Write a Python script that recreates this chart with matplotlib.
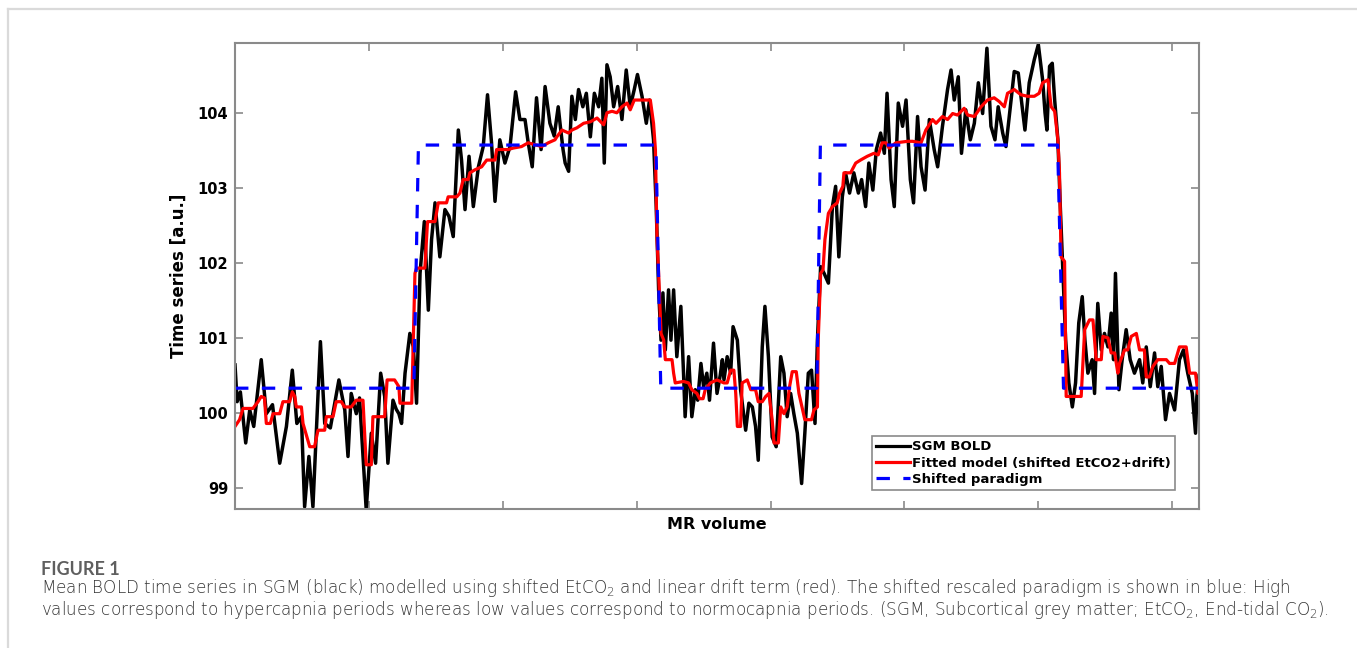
import matplotlib
matplotlib.use("Agg")
import matplotlib.pyplot as plt
from matplotlib.lines import Line2D

# SGM BOLD (black): volume, value
bold_vol = [0, 0.8, 2, 4, 5.5, 7, 9.8, 11.7, 14, 16.7, 19.2, 21.4, 23.1, 24.8, 26, 27.6, 29.1,
            31.9, 33.5, 35.6, 38.8, 41, 42.2, 43.4, 45.3, 46.5, 49, 50.9, 52.5, 54.4, 55.9, 57.1,
            59, 60.2, 61.2, 62.2, 63.5, 65.3, 66.6, 67.8, 69.1, 70.7, 72.2, 73.4, 74.7, 76.5,
            78.4, 79.9, 81.5, 83.4, 84.6, 85.9, 87.4, 89, 90.9, 92.7, 94.3, 95.8, 97.1, 98.9,
            100.8, 102.7, 104.8, 106.4, 108.3, 109.5, 111, 112.6, 114.3, 115.8, 117.6, 119.2,
            120.7, 121.5, 122.5, 123.3, 124.6, 125.8, 127.1, 128.3, 129.9, 131.2, 132.7, 134.2,
            135.8, 137, 137.9, 138.9, 140.1, 141.4, 142.9, 144.5, 146.1, 147.6, 149.1, 150.3,
            152, 153.6, 154.8, 156.3, 157.3, 158.2, 159.1, 159.8, 160.7, 161.9, 162.8, 163.8,
            165, 166.5, 167.5, 168.1, 169.4, 170.6, 171.9, 172.8, 174, 175, 176.2, 177.2, 178.7,
            180, 181.2, 182, 182.6, 183.8, 185.1, 186, 187.6, 188.8, 190.7, 191.9, 193.2, 194.4,
            195.4, 196.9, 197.9, 199.2, 200.6, 202.1, 203.8, 205, 206.2, 207.5, 208.7, 210,
            211.6, 212.8, 214.1, 215.3, 216.6, 217.5, 218.7, 220, 221.6, 223.1, 224.3, 225.5,
            226.8, 228, 229.5, 231.1, 232.8, 234, 235.5, 236.7, 238.2, 239.5, 241.1, 242.5,
            243.5, 245, 246.2, 247.7, 249.3, 250.6, 252.2, 253.4, 254.9, 256.2, 257.7, 259.3,
            261.1, 262.4, 264.2, 266.1, 267.4, 268.6, 270.1, 271.3, 272.9, 274.6, 276.1, 277.6,
            279.2, 280.8, 282.3, 283.8, 285, 286.7, 287.9, 289.8, 291, 292.5, 293.5, 295, 296.6,
            298.5, 300, 301.6, 302.5, 303.2, 304.2, 305.2, 306.1, 307.3, 308.2, 309.2, 310.2,
            311.4, 312.7, 313.9, 315.1, 316.4, 317.4, 318.5, 320.1, 321, 322.2, 323.5, 324.7,
            326, 327.2, 328.1, 328.8, 330.1, 331.3, 332.8, 334.3, 335.9, 337.8, 339, 340.3,
            341.8, 343.4, 344.6, 345.9, 347.5, 349, 350.9, 352.7, 354.2, 355.8, 357.5, 358.7,
            359.2, 360]
bold_val = [100.64, 100.15, 100.28, 99.60, 100.04, 99.82, 100.71, 99.99, 100.11, 99.33, 99.82,
            100.57, 99.86, 99.95, 98.75, 99.42, 98.75, 100.95, 99.86, 99.80, 100.44, 100.04,
            99.42, 100.26, 99.99, 100.20, 98.71, 99.73, 99.33, 100.53, 100.22, 99.33, 100.17,
            100.05, 99.99, 99.86, 100.53, 101.06, 100.88, 100.13, 101.86, 102.55, 101.37,
            102.31, 102.80, 102.08, 102.71, 102.62, 102.35, 103.77, 103.37, 102.71, 103.42,
            102.75, 103.28, 103.55, 104.24, 103.60, 102.82, 103.64, 103.33, 103.55, 104.28,
            103.91, 103.91, 103.60, 103.28, 104.20, 103.51, 104.35, 103.86, 103.69, 104.08,
            103.82, 103.51, 103.33, 103.22, 104.22, 103.91, 104.31, 104.08, 104.26, 103.68,
            104.26, 104.08, 104.46, 103.33, 104.64, 104.48, 104.08, 104.35, 103.91, 104.57,
            104.08, 104.31, 104.51, 104.22, 103.86, 104.17, 103.64, 102.75, 101.64, 100.97,
            101.60, 100.84, 101.64, 100.97, 101.64, 100.75, 101.42, 100.53, 99.95, 100.75,
            99.95, 100.31, 100.17, 100.66, 100.35, 100.53, 100.17, 100.93, 100.26, 100.50,
            100.71, 100.44, 100.75, 100.53, 101.15, 100.97, 100.31, 99.77, 100.13, 100.08,
            99.82, 99.37, 100.88, 101.42, 100.75, 99.68, 99.55, 100.75, 100.53, 99.95, 100.26,
            99.99, 99.73, 99.06, 99.73, 100.53, 100.57, 99.86, 100.97, 101.95, 101.86, 101.73,
            102.75, 103.02, 102.08, 102.88, 103.20, 102.93, 103.20, 102.93, 103.11, 102.75,
            103.33, 102.97, 103.51, 103.73, 103.46, 104.26, 103.11, 102.75, 104.13, 103.82,
            104.17, 103.11, 102.80, 103.95, 103.28, 102.97, 103.91, 103.51, 103.28, 103.82,
            104.31, 104.57, 104.17, 104.48, 103.46, 104.04, 103.64, 103.86, 104.40, 103.99,
            104.86, 103.82, 103.64, 104.08, 103.73, 103.55, 104.17, 104.55, 104.53, 104.22,
            103.77, 104.40, 104.71, 104.91, 104.44, 104.00, 103.77, 104.62, 104.66, 104.17,
            103.64, 102.75, 101.86, 100.97, 100.40, 100.08, 100.40, 101.20, 101.55, 100.97,
            100.53, 100.71, 100.26, 101.46, 100.84, 101.06, 100.88, 101.33, 100.71, 101.86,
            100.31, 100.71, 101.11, 100.71, 100.53, 100.71, 100.40, 100.88, 100.35, 100.80,
            100.35, 100.62, 99.91, 100.26, 100.04, 100.71, 100.84, 100.53, 100.26, 99.73,
            100.22, 100.50]

# fitted model (red)
fit_vol = [0, 1.7, 3, 6.7, 8.6, 9.8, 11, 11.7, 13.2, 14.2, 16.7, 17.9, 20.4, 21.4, 22.3, 22.9,
           24.8, 25.4, 27.9, 29.7, 31, 33.5, 34.1, 36.6, 37.8, 39.7, 40.9, 43.4, 45.3, 47.8,
           49, 50.9, 51.5, 55.9, 56.8, 59.6, 61.2, 61.6, 66, 66.6, 67.2, 67.8, 70.9, 71.9,
           74.7, 75.9, 79, 79.6, 82.8, 84, 85.2, 87.1, 87.7, 89.6, 92.1, 94, 97.1, 97.7, 102,
           103.9, 107, 109.5, 114.5, 117, 119.5, 120.2, 122.1, 124.6, 125.8, 127.7, 130.2,
           132.7, 135.2, 137.7, 138.9, 140.8, 142.6, 144.5, 146.4, 147.6, 149.1, 152, 155.1,
           156.3, 157, 157.6, 158.2, 159.1, 160.1, 160.7, 163.2, 163.8, 164.4, 167.5, 169.4,
           170.6, 172.5, 173.5, 174.8, 175.6, 177.5, 180, 182.6, 183.8, 185.1, 186.3, 187,
           187.6, 188.8, 189.4, 191.3, 192.6, 194.4, 195.4, 196.9, 198.2, 199.4, 200.6, 201.3,
           202.9, 203.8, 205, 206.2, 207.1, 208.1, 209.6, 210.6, 212.8, 215.3, 216.2, 217.5,
           217.8, 218.7, 219.6, 220.3, 221.6, 223.1, 224.9, 225.8, 227, 227.4, 229.9, 231.8,
           233.6, 236.1, 238.6, 240.2, 241.7, 243.1, 244.3, 246.8, 251.2, 253, 256.2, 258,
           260.5, 261.8, 264.2, 266.1, 268, 269.8, 272.3, 273.6, 276.1, 278.6, 281, 283.5,
           285.4, 287.3, 288.5, 291, 293.5, 296, 298.5, 300.3, 301.6, 303.6, 304.8, 306.1,
           307.3, 307.9, 308.5, 309.8, 310.4, 315.4, 316, 317.3, 319.1, 320.4, 321.6, 323.5,
           324.1, 326, 327.2, 328.5, 329.7, 330.3, 332.2, 333.4, 334.7, 336.6, 337.8, 339.6,
           340.3, 341.5, 342.8, 344.6, 347.8, 349, 350.9, 352.7, 355.2, 356.5, 358.7, 359.6,
           360]
fit_val = [99.82, 99.91, 100.06, 100.06, 100.15, 100.22, 100.20, 99.86, 99.86, 99.99, 99.99,
           100.15, 100.15, 100.28, 100.22, 100.08, 100.08, 99.86, 99.55, 99.55, 99.77, 99.77,
           99.95, 99.95, 100.15, 100.15, 100.08, 100.08, 100.17, 100.17, 99.31, 99.31, 99.95,
           99.95, 100.44, 100.44, 100.35, 100.13, 100.13, 100.97, 101.86, 101.93, 101.93,
           102.55, 102.55, 102.80, 102.80, 102.88, 102.88, 102.93, 103.11, 103.11, 103.20,
           103.24, 103.28, 103.37, 103.37, 103.51, 103.51, 103.53, 103.55, 103.60, 103.55,
           103.60, 103.64, 103.68, 103.77, 103.73, 103.77, 103.80, 103.86, 103.88, 103.93,
           103.84, 104.00, 104.02, 104.00, 104.08, 104.13, 104.04, 104.17, 104.17, 104.17,
           103.86, 103.51, 102.31, 101.86, 101.06, 100.97, 100.71, 100.71, 100.53, 100.40,
           100.42, 100.40, 100.31, 100.26, 100.19, 100.19, 100.31, 100.40, 100.44, 100.40,
           100.40, 100.57, 100.57, 100.26, 99.82, 99.82, 100.40, 100.44, 100.31, 100.31,
           100.15, 100.15, 100.22, 100.26, 99.91, 99.60, 99.60, 100.08, 99.99, 100.08, 100.35,
           100.55, 100.55, 100.26, 99.91, 99.91, 100.04, 100.08, 100.97, 101.86, 101.91,
           102.31, 102.66, 102.75, 102.80, 102.93, 103.02, 103.20, 103.20, 103.33, 103.37,
           103.42, 103.46, 103.44, 103.60, 103.60, 103.53, 103.60, 103.62, 103.62, 103.60,
           103.77, 103.91, 103.86, 103.95, 103.91, 103.99, 103.97, 104.06, 103.97, 103.95,
           104.08, 104.17, 104.20, 104.15, 104.08, 104.26, 104.31, 104.24, 104.22, 104.22,
           104.26, 104.40, 104.44, 104.08, 104.02, 103.64, 103.20, 102.08, 102.02, 100.22,
           100.22, 100.22, 101.11, 101.24, 101.24, 100.71, 100.71, 101.02, 101.00, 100.80,
           100.80, 100.53, 100.66, 100.84, 100.84, 101.02, 101.06, 100.84, 100.84, 100.48,
           100.48, 100.62, 100.71, 100.71, 100.66, 100.66, 100.88, 100.88, 100.53, 100.53,
           100.26, 100.26]

# shifted paradigm (blue)
para_vol = [0, 66.8, 68.5, 157.2, 159.0, 217.3, 218.6, 307.2, 309.4, 360]
para_val = [100.33, 100.33, 103.57, 103.57, 100.33, 100.33, 103.57, 103.57, 100.33, 100.33]

legend = ['SGM BOLD', 'Fitted model (shifted EtCO2+drift)', 'Shifted paradigm']
yticks = [99, 100, 101, 102, 103, 104]
xticks = [50, 100, 150, 200, 250, 300, 350]

caption_head = "FIGURE 1"
caption_1 = ("Mean BOLD time series in SGM (black) modelled using shifted EtCO$_2$ and linear drift "
             "term (red). The shifted rescaled paradigm is shown in blue: High")
caption_2 = ("values correspond to hypercapnia periods whereas low values correspond to normocapnia "
             "periods. (SGM, Subcortical grey matter; EtCO$_2$, End-tidal CO$_2$).")

plt.rcParams['mathtext.fontset'] = 'custom'
plt.rcParams['mathtext.rm'] = 'DejaVu Sans:light'
plt.rcParams['mathtext.it'] = 'DejaVu Sans:light'
plt.rcParams['mathtext.default'] = 'rm'

spine_col = '#8a8a8a'
fig = plt.figure(figsize=(13.57, 6.48), dpi=100)

# light frame round the figure panel
fig.add_artist(Line2D([8/1357, 1.0], [1-9/648, 1-9/648], color='#dadada', lw=1.6))
fig.add_artist(Line2D([8/1357, 8/1357], [0, 1-9/648], color='#dadada', lw=1.6))

ax = fig.add_axes([235/1357, 1-509/648, 964/1357, 466/648])
ax.plot(bold_vol, bold_val, color='black', lw=2.5)
ax.plot(fit_vol, fit_val, color='red', lw=2.3)
ax.plot(para_vol, para_val, color='blue', lw=2.3, dashes=(4.2, 4.2))

ax.set_xlim(0, 360)
ax.set_ylim(98.72, 104.93)
ax.set_xticks(xticks)
ax.set_yticks(yticks)
ax.tick_params(direction='in', length=6, width=1.2, color=spine_col, top=True, right=True,
               labelbottom=False, labelsize=10.5, pad=5)
for lbl in ax.get_yticklabels():
    lbl.set_fontweight('bold')
for s in ax.spines.values():
    s.set_color(spine_col)
    s.set_linewidth(1.5)

ax.set_xlabel("MR volume", fontsize=11.5, fontweight='bold', labelpad=6)
ax.set_ylabel("Time series [a.u.]", fontsize=12, fontweight='bold', labelpad=7)

handles = [Line2D([], [], color='black', lw=2.3),
           Line2D([], [], color='red', lw=2.3),
           Line2D([], [], color='blue', lw=2.3, dashes=(4.2, 4.2))]
lgd = ax.legend(handles, legend, loc='lower right', bbox_to_anchor=(0.975, 0.041),
                borderaxespad=0, fancybox=False, framealpha=1, edgecolor=spine_col,
                prop={'weight': 'bold', 'size': 9.5}, handlelength=2.6, handletextpad=0.15,
                labelspacing=0.25, borderpad=0.3)
lgd.get_frame().set_linewidth(1.2)

fig.text(41/1357, 1-575/648, caption_head, fontsize=13, color='#5f5f5f', family='Lato',
         fontweight='bold', va='baseline')
fig.text(41/1357, 1-593/648, caption_1, fontsize=12.1, color='#333333', family='DejaVu Sans',
         fontweight='light', va='baseline')
fig.text(41/1357, 1-615/648, caption_2, fontsize=12.1, color='#333333', family='DejaVu Sans',
         fontweight='light', va='baseline')

fig.savefig('out.png', dpi=100)
